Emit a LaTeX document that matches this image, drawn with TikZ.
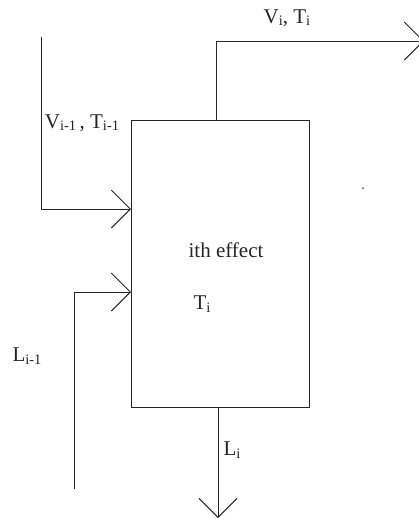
\documentclass[tikz,border=0pt]{standalone}
\usepackage{fontspec}
\setmainfont{Liberation Serif}
\usetikzlibrary{arrows.meta}
\newcommand{\sbs}[1]{\raisebox{-0.12em}{\fontsize{14.5}{14.5}\selectfont #1}}
\begin{document}
\begin{tikzpicture}[x=1pt,y=-1pt,
  flow/.style={line width=1pt, draw=black!85, -{Straight Barb[length=19pt,width=38pt,line width=1pt]}},
  lbl/.style={font=\fontsize{21}{24}\selectfont, inner sep=0pt, text=black!85}]
\useasboundingbox (0,0) rectangle (419,523);
\fill[white] (0,0) rectangle (419,523);
\node[draw=black!85, line width=1pt, minimum width=178pt, minimum height=287pt, inner sep=0pt] (eff) at (220,264) {};
\coordinate (vtop) at (216,120);
\coordinate (vcorner) at (216,41);
\coordinate (vout) at (424,41);
\coordinate (vin0) at (41,37);
\coordinate (vin1) at (41,209);
\coordinate (vin2) at (131,209);
\coordinate (lin0) at (74,489);
\coordinate (lin1) at (74,292);
\coordinate (lin2) at (131,292);
\coordinate (lbot) at (218,408);
\coordinate (lout) at (218,518);
\draw[flow] (vtop) -- (vcorner) -- (vout);
\draw[flow] (vin0) -- (vin1) -- (vin2);
\draw[flow] (lin0) -- (lin1) -- (lin2);
\draw[flow] (lbot) -- (lout);
\node[lbl] (lvi) at (287,18) {V\sbs{i}, T\sbs{i}};
\node[lbl] (lvim) at (82,123) {V\sbs{i-1}\,, T\sbs{i-1}};
\node[lbl] (leff) at (226,250) {ith effect};
\node[lbl] (lti) at (202,304) {T\sbs{i}};
\node[lbl] (llim) at (27,356) {L\sbs{i-1}};
\node[lbl] (lli) at (232,450) {L\sbs{i}};
\fill[black!70] (363,188) circle (1pt);
\end{tikzpicture}
\end{document}
